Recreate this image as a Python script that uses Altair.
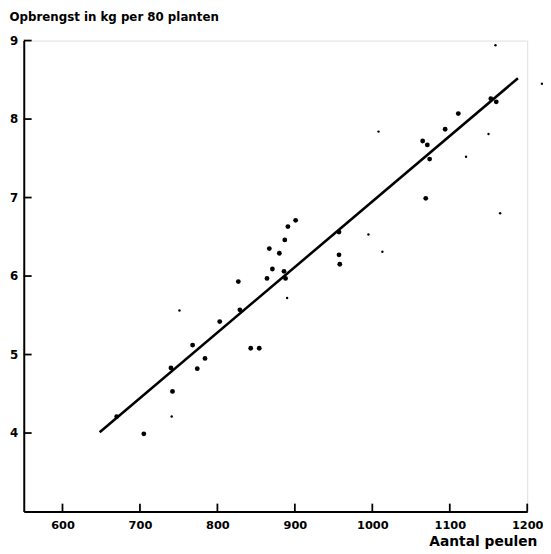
import altair as alt
import pandas as pd

# Large dots
big_x = [670, 705, 740, 742, 768, 774, 784, 803, 829, 827, 843, 854, 864, 871, 867, 880,
         888, 886, 887, 891, 901, 957, 957, 958, 1069, 1065, 1071, 1074, 1094, 1111, 1153, 1160]
big_y = [4.21, 3.99, 4.83, 4.53, 5.12, 4.82, 4.95, 5.42, 5.57, 5.93, 5.08, 5.08, 5.97, 6.09, 6.35, 6.29,
         5.97, 6.06, 6.46, 6.63, 6.71, 6.56, 6.27, 6.15, 6.99, 7.72, 7.67, 7.49, 7.87, 8.07, 8.26, 8.22]
# Small marks
small_x = [741, 751, 890, 995, 1013, 1008, 1121, 1150, 1159, 1219, 1165]
small_y = [4.21, 5.56, 5.72, 6.53, 6.31, 7.84, 7.52, 7.81, 8.94, 8.45, 6.80]
# Regression line end points
line_x = [648, 1188]
line_y = [4.01, 8.52]
# Axis ticks
x_ticks = [600, 700, 800, 900, 1000, 1100, 1200]
y_ticks = [4, 5, 6, 7, 8, 9]

FONT = "DejaVu Sans"
W, H = 511, 478

xs = alt.Scale(domain=[550, 1200], nice=False, zero=False)
ys = alt.Scale(domain=[3, 9], nice=False, zero=False)

big = pd.DataFrame({"x": big_x, "y": big_y})
small = pd.DataFrame({"x": small_x, "y": small_y})
line = pd.DataFrame({"x": line_x, "y": line_y})
xt = pd.DataFrame({"v": x_ticks})
yt = pd.DataFrame({"v": y_ticks})

xaxis = alt.Axis(values=x_ticks, format="d", tickSize=0, labelPadding=8, labelFont=FONT,
                 labelFontSize=11.5, labelFontWeight="bold", labelColor="black",
                 labelFlush=False, labelOverlap=False, labelBound=False,
                 domainColor="black", domainWidth=2, grid=False,
                 title="Aantal peulen", titleFont=FONT, titleFontSize=14,
                 titleFontWeight="bold", titleColor="black", titleX=466, titleY=34,
                 titleAlign="center", titleBaseline="alphabetic")
yaxis = alt.Axis(values=y_ticks, format="d", tickSize=0, labelPadding=6, labelFont=FONT,
                 labelFontSize=12, labelFontWeight="bold", labelColor="black",
                 labelFlush=False, domainColor="black", domainWidth=2, grid=False,
                 title="Opbrengst in kg per 80 planten", titleFont=FONT,
                 titleFontSize=12, titleFontWeight="bold", titleColor="black", titleAngle=0,
                 titleX=-15, titleY=-20, titleAlign="left", titleBaseline="alphabetic")

reg = alt.Chart(line).mark_line(color="black", strokeWidth=2.6).encode(
    x=alt.X("x:Q", scale=xs, axis=xaxis),
    y=alt.Y("y:Q", scale=ys, axis=yaxis),
)
dots = alt.Chart(big).mark_circle(color="black", opacity=1, size=24).encode(
    x=alt.X("x:Q", scale=xs), y=alt.Y("y:Q", scale=ys))
specks = alt.Chart(small).mark_circle(color="black", opacity=1, size=6).encode(
    x=alt.X("x:Q", scale=xs), y=alt.Y("y:Q", scale=ys))
xtick = alt.Chart(xt).mark_rule(color="black", strokeWidth=1.8).encode(
    x=alt.X("v:Q", scale=xs), y=alt.value(H), y2=alt.value(H - 8))
ytick = alt.Chart(yt).mark_rule(color="black", strokeWidth=1.8).encode(
    y=alt.Y("v:Q", scale=ys), x=alt.value(0), x2=alt.value(8))

chart = alt.layer(reg, dots, specks, xtick, ytick).properties(
    width=W, height=H,
    autosize=alt.AutoSizeParams(type="none"),
    padding={"left": 16, "top": 29, "right": 16, "bottom": 35},
).configure_view(stroke=None).configure(background="white")

chart.save("out.html", embed_options={"renderer": "svg", "actions": False})
